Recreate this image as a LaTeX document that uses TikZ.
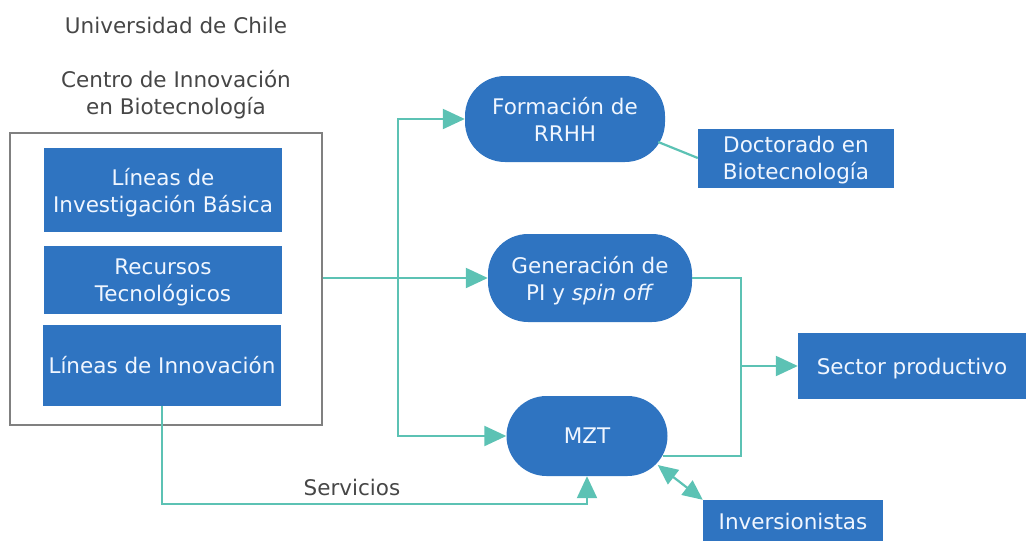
\documentclass[tikz,border=0pt]{standalone}
\usepackage{fontspec}
\setmainfont{DejaVu Sans}
\usetikzlibrary{arrows.meta}

\definecolor{caja}{RGB}{47,116,193}
\definecolor{conector}{RGB}{92,194,180}
\definecolor{gristexto}{RGB}{70,70,70}
\definecolor{blancoazul}{RGB}{240,246,255}

\begin{document}
\begin{tikzpicture}[
            x = 1pt, y = -1pt,
            every node/.style={text depth=0pt, inner sep=0pt, font=\fontsize{21.5}{27}\selectfont},
            titulo/.style={text=gristexto, align=center},
            bloque/.style={fill=caja, text=blancoazul, align=center},
            pildora/.style={bloque, rounded corners=40pt},
            line/.style={draw=conector, line width=2.2pt},
            flecha/.style={line, -{Triangle[length=22pt,width=20pt]}},
            flechas/.style={line, {Triangle[length=20pt,width=18pt]}-{Triangle[length=20pt,width=18pt]}},
            ]
        \useasboundingbox (0,0) rectangle (1026,541);

        \node[titulo] (uchile) at (176,25) {Universidad de Chile};
        \node[titulo] (centro) at (176,92) {Centro de Innovación\\en Biotecnología};

        \node[draw=gray, line width=1.5pt, minimum width=312pt, minimum height=292pt] (marco) at (166,279) {};
        \node[bloque, minimum width=238pt, minimum height=84pt] (lineas) at (163,190) {Líneas de\\Investigación Básica};
        \node[bloque, minimum width=238pt, minimum height=68pt] (recursos) at (163,280) {Recursos\\Tecnológicos};
        \node[bloque, minimum width=238pt, minimum height=81pt] (innov) at (162,365) {Líneas de Innovación};

        \node[pildora, minimum width=200pt, minimum height=86pt] (formacion) at (565,119) {Formación de\\RRHH};
        \node[pildora, minimum width=204pt, minimum height=88pt] (generacion) at (590,278) {Generación de\\PI y \textit{spin off}};
        \node[pildora, minimum width=161pt, minimum height=80pt] (mzt) at (587,436) {MZT};

        \node[bloque, minimum width=196pt, minimum height=59pt] (doctorado) at (796,158) {Doctorado en\\Biotecnología};
        \node[bloque, minimum width=228pt, minimum height=66pt] (sector) at (912,366) {Sector productivo};
        \node[bloque, minimum width=180pt, minimum height=42pt] (inversion) at (793,521) {Inversionistas};

        \coordinate (bus) at (398,278);
        \coordinate (colector) at (741,366);

        \draw[flecha] (marco.east |- bus) -- (generacion.west);
        \draw[flecha] (bus) |- (formacion.west);
        \draw[flecha] (bus) |- (mzt.west);
        \draw[line] ([xshift=-7pt,yshift=-23pt]formacion.east) -- (doctorado.west);
        \draw[line] (generacion.east) -| (colector);
        \draw[line] ([xshift=-5pt,yshift=-20pt]mzt.east) -| (colector);
        \draw[flecha] (colector) -- (sector.west);
        \draw[flecha] (innov.south) |- ([yshift=-28pt]mzt.south) -- (mzt.south);
        \draw[flechas] ([xshift=-10pt,yshift=-29pt]mzt.east) -- (inversion.north west);

        \node[titulo] (servicios) at (352,487) {Servicios};
    \end{tikzpicture}
\end{document}
